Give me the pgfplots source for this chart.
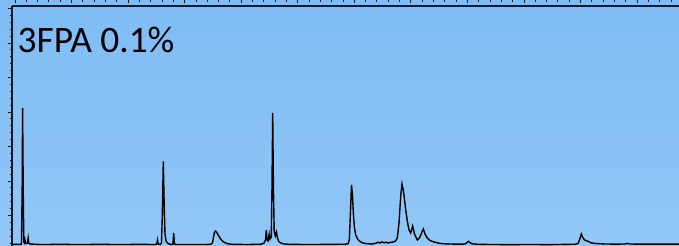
\documentclass[border=0pt]{standalone}
\usepackage{pgfplots}
\pgfplotsset{compat=1.18}
\usepackage{fontspec}
\newfontfamily\carlito{Carlito}
\definecolor{bgtop}{RGB}{127,188,245}
\definecolor{bgbot}{RGB}{146,199,246}
\definecolor{axline}{RGB}{20,24,36}
\begin{document}
\begin{tikzpicture}
\useasboundingbox (0,0) rectangle (679bp,246bp);
\shade[top color=bgtop, bottom color=bgbot] (0,0) rectangle (679bp,246bp);
\begin{axis}[
  at={(12bp,0bp)}, anchor=south west,
  scale only axis, width=667bp, height=240bp,
  xmin=12, xmax=679, ymin=0, ymax=240,
  axis x line*=top, axis y line*=left,
  axis line style={-, line width=1.3bp, axline},
  tick align=outside,
  xtick={15,71.55,...,679}, minor xtick={15,26.31,...,679},
  ytick={30.5,65,99.5,134,168.5,203,237.5}, minor ytick={2.9,9.8,...,238},
  xticklabels={}, yticklabels={},
  major tick length=4bp, minor tick length=2bp,
  every tick/.style={axline, line width=0.9bp},
  every major x tick/.append style={yshift=2.5bp},
  every minor x tick/.append style={yshift=4bp},
  clip=true,
]
\addplot[black, line width=1.4bp] coordinates {
(12,1.6) (16,1.6) (20,1.7) (21.5,2) (22.2,60) (22.6,138) (23.2,60) (23.8,4) (24.5,3) (25,6) (25.6,3) (26.5,2.5) (27.5,3) (28.2,8) (28.8,3) (30,2)
(40,1.5) (60,1.6) (80,1.5) (100,1.6) (120,1.5) (140,1.6) (155,1.5) (156.8,2) (157.5,6) (158.2,2) (160,1.5) (161.5,3) (162.3,30) (163.3,84.5) (164.2,40) (165,12) (166,5) (167.5,3) (169,2) (171,1.5) (173,2) (173.7,13) (174.4,2) (176,1.5)
(190,1.5) (205,1.5) (209,1.6) (211,1.8) (212.5,3) (213.5,9) (214.5,14) (215.5,15) (217,13) (219,9.5) (221,6.5) (223,4.5) (225,3.2) (228,2.2) (232,1.7)
(245,1.5) (255,1.6) (260,1.8) (262,2) (264,3) (265.5,6) (266.3,16) (267,6) (268,5) (269.2,12) (270,7) (271.3,9) (272,60) (272.7,133) (273.4,60) (274.2,15) (275.3,10) (276.5,14) (277.3,9) (278.5,5) (280,3.5) (282,2.5) (285,2) (290,1.6)
(310,1.5) (330,1.6) (345,1.8) (348,2.2) (349.3,6) (350.3,30) (351.5,61) (352.5,50) (353.5,30) (354.5,18) (355.7,11) (357.5,7) (360,4.5) (363,3) (367,2.3) (372,2) (376,2.8) (378,3.8) (380,3) (382,4.2) (384,3.2) (386,3.8) (388,3) (390,3.5) (393,4) (395.5,5)
(397.3,8) (399,23) (400.7,50) (402,62) (403.5,55) (405.7,36) (407.5,24) (409,16) (410.7,13) (412.7,20) (414.5,12) (417.3,6) (419.5,8) (421.5,13) (423.3,17) (425,12) (427.3,8) (430,5.5) (434,4) (438,3) (442,2.3) (450,2)
(460,1.8) (465,2) (467,3.5) (468.3,4.7) (469.8,3.5) (472,2.2) (478,1.7) (490,1.5) (510,1.4) (530,1.5) (550,1.4) (565,1.6) (575,1.8) (578,2.5) (579.5,6) (581.3,12) (582.8,8.5) (584.5,6) (587.3,5) (591,3.2) (595.7,2.5) (605,2) (615,1.9) (625,2) (627.3,2.7) (629,2) (645,1.8) (660,1.8) (679,1.8)
};
\node[anchor=base west, inner sep=0pt, font=\carlito\fontsize{37.5}{40}\selectfont] at (axis cs:17.5,194) {3FPA 0.1\%};
\end{axis}
\end{tikzpicture}
\end{document}
